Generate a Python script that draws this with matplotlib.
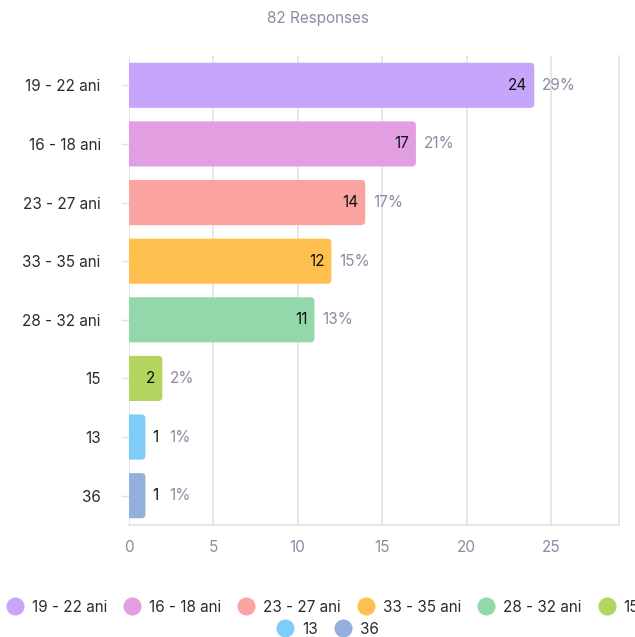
import matplotlib
matplotlib.use("Agg")
import matplotlib.pyplot as plt
from matplotlib.patches import FancyBboxPatch
from matplotlib.lines import Line2D

plt.rcParams['font.family'] = ['Inter', 'DejaVu Sans']

categories = ["19 - 22 ani", "16 - 18 ani", "23 - 27 ani", "33 - 35 ani",
              "28 - 32 ani", "15", "13", "36"]
values = [24, 17, 14, 12, 11, 2, 1, 1]
percents = ["29%", "21%", "17%", "15%", "13%", "2%", "1%", "1%"]
colors = ["#c6a6fb", "#e19fe2", "#fba3a1", "#ffc04f", "#93d8aa",
          "#b3d45f", "#80ccf8", "#95afdc"]
xticks = [0, 5, 10, 15, 20, 25]
title = "82 Responses"

W, H = 635, 637
fig = plt.figure(figsize=(W / 100, H / 100), dpi=100)
left_px, right_px, top_px, bot_px = 128.5, 618.8, 56, 525
ax = fig.add_axes([left_px / W, 1 - bot_px / H, (right_px - left_px) / W, (bot_px - top_px) / H])

xmax = 29.0
ax.set_xlim(0, xmax)
ax.set_ylim(len(categories) - 0.5, -0.5)

grid_c = "#e3e2ea"
for t in xticks:
    ax.axvline(t, color=grid_c, lw=1.2, zorder=0)
for s in ["top", "left"]:
    ax.spines[s].set_visible(False)
for s in ["right", "bottom"]:
    ax.spines[s].set_color(grid_c)
    ax.spines[s].set_linewidth(1.2)

xpx = (right_px - left_px) / xmax
ypx = (bot_px - top_px) / len(categories)
r_px = 4.0
bar_h = 0.77
fs = 11

for i, (v, c) in enumerate(zip(values, colors)):
    x0 = -1.0
    w = v - x0
    y0 = i - bar_h / 2
    patch = FancyBboxPatch((x0, y0), w, bar_h,
                           boxstyle=f"round,pad=0,rounding_size={r_px / xpx}",
                           mutation_aspect=xpx / ypx,
                           facecolor=c, edgecolor="none", zorder=2,
                           clip_on=True)
    ax.add_patch(patch)
    end_px = v * xpx
    if end_px > 25:
        ax.annotate(str(v), (v, i), xytext=(-7, 0), textcoords="offset pixels",
                    ha="right", va="center", fontsize=fs, color="#111111", zorder=3)
        ax.annotate(percents[i], (v, i), xytext=(8, 0), textcoords="offset pixels",
                    ha="left", va="center", fontsize=fs, color="#8c8ba3", zorder=3)
    else:
        ax.annotate(str(v), (v, i), xytext=(7, 0), textcoords="offset pixels",
                    ha="left", va="center", fontsize=fs, color="#111111", zorder=3)
        ax.annotate(percents[i], (v, i), xytext=(24, 0), textcoords="offset pixels",
                    ha="left", va="center", fontsize=fs, color="#8c8ba3", zorder=3)

ax.set_yticks(range(len(categories)))
ax.set_yticklabels(categories, fontsize=fs, color="#2b2b2b")
ax.tick_params(axis="y", length=6, width=1, color=grid_c, pad=14)
ax.set_xticks(xticks)
ax.set_xticklabels([str(t) for t in xticks], fontsize=fs, color="#8c8ba3")
ax.tick_params(axis="x", length=0, pad=11)

fig.text(0.5, 1 - 18 / H, title, ha="center", va="center", fontsize=fs, color="#8c8ba3")

def handles(idx):
    return [Line2D([], [], marker="o", linestyle="none", markersize=13,
                   markerfacecolor=colors[k], markeredgecolor="none") for k in idx]

fpx = fs * 100 / 72
leg_kw = dict(frameon=False, fontsize=fs, handletextpad=8 / fpx,
              columnspacing=16 / fpx, handlelength=18 / fpx, borderaxespad=0,
              borderpad=0)
row1 = list(range(6))
row2 = [6, 7]
leg1 = fig.legend(handles(row1), [categories[k] for k in row1], ncol=6,
                  loc="center", bbox_to_anchor=(322.5 / W, 1 - 607 / H), **leg_kw)
leg2 = fig.legend(handles(row2), [categories[k] for k in row2], ncol=2,
                  loc="center", bbox_to_anchor=(327.5 / W, 1 - 629 / H), **leg_kw)
for leg in (leg1, leg2):
    for t in leg.get_texts():
        t.set_color("#2b2b2b")

fig.savefig("out.png", dpi=100)
